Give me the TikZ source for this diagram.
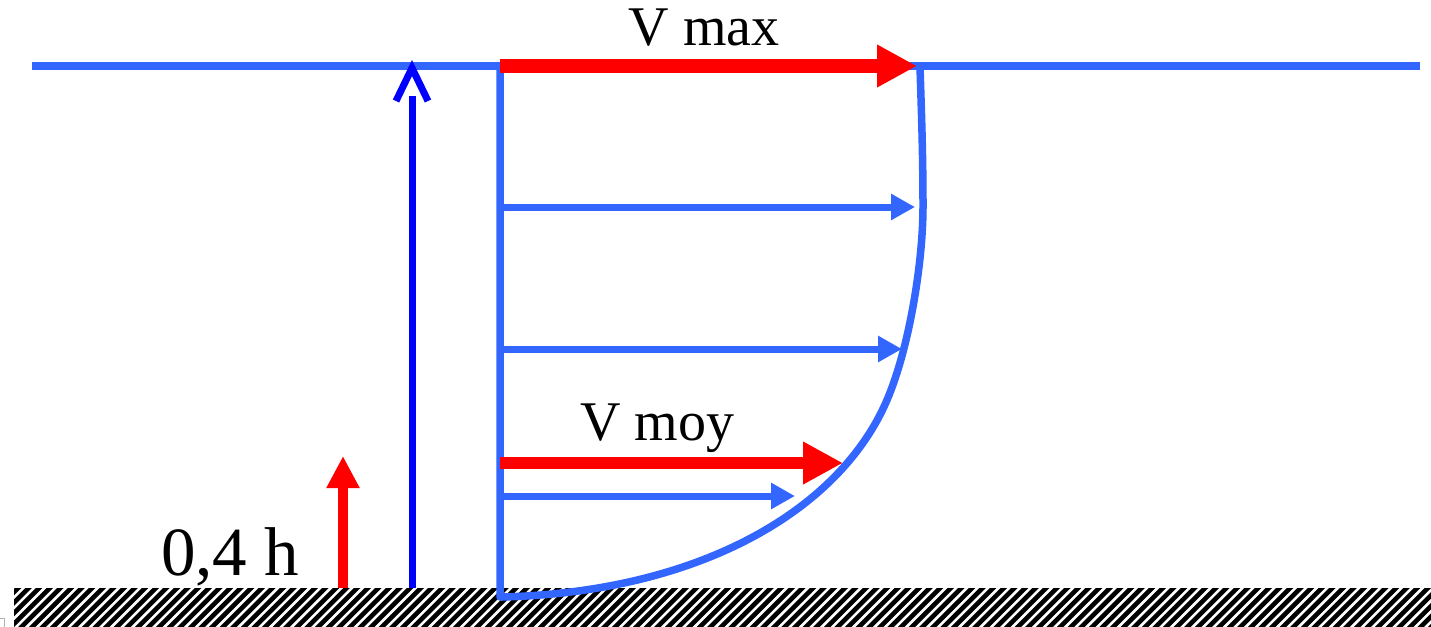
\documentclass[tikz,border=0pt]{standalone}
\usepackage{fontspec}
\setmainfont{Liberation Serif}
\usetikzlibrary{arrows.meta}
\definecolor{profblue}{RGB}{51,102,255}
\definecolor{pureblue}{RGB}{0,0,255}
\definecolor{vred}{RGB}{255,0,0}
\tikzset{
  bluearrow/.style={draw=profblue, line width=7, -{Triangle[length=24,width=25]}},
  redarrow/.style={draw=vred, line width=13, -{Triangle[length=40,width=40]}},
  lbl/.style={anchor=base, inner sep=0pt, font=\fontsize{56}{60}\selectfont},
}
\begin{document}
\begin{tikzpicture}[x=1pt,y=-1pt]
\useasboundingbox (0,0) rectangle (1431,626);
% ground hatch
\begin{scope}
  \clip (14,588) rectangle (1431,626);
  \foreach \i in {0,...,142} \draw[black, line width=4.6] ({\i*10.6-30},636) -- ++(50,-50);
\end{scope}
\draw[gray!60, line width=1] (-5,618) rectangle (4,632);
% coordinates
\coordinate (wl) at (32,66);
\coordinate (wr) at (1420,66);
\coordinate (ptop) at (500,66);
\coordinate (pbot) at (500,597);
\coordinate (vtip) at (920,67);
% water surface
\draw[profblue, line width=7] (wl) -- (wr);
% velocity profile
\draw[profblue, line width=7.5, line join=round]
  (ptop) -- (pbot) -- (502,597)
  .. controls (700,592) and (840,510) .. (887,400)
  .. controls (910,346) and (923,260) .. (923,207)
  .. controls (923,150) and (921,100) .. (vtip);
% blue horizontal arrows
\coordinate (b1s) at (500,207); \coordinate (b1e) at (915,207);
\coordinate (b2s) at (500,349); \coordinate (b2e) at (902,349);
\coordinate (b3s) at (500,496); \coordinate (b3e) at (795,496);
\draw[bluearrow] (b1s) -- (b1e);
\draw[bluearrow] (b2s) -- (b2e);
\draw[bluearrow] (b3s) -- (b3e);
% red arrows
\coordinate (rms) at (500,66); \coordinate (rme) at (917,66);
\coordinate (ros) at (500,463); \coordinate (roe) at (843,463);
\draw[redarrow] (rms) -- (rme);
\draw[redarrow, line width=12] (ros) -- (roe);
\coordinate (hs) at (343,588); \coordinate (he) at (343,456);
\draw[draw=vred, line width=10, -{Triangle[length=32,width=31]}] (hs) -- (he);
% depth arrow (open head)
\coordinate (ds) at (412,588); \coordinate (de) at (412,96);
\coordinate (dt) at (412,68);
\draw[pureblue, line width=7] (ds) -- (de);
\draw[pureblue, line width=7] (396,101) -- (dt) -- (428,101);
% labels
\node[lbl] (vmax) at (704,46) {V max};
\node[lbl] (vmoy) at (657,440) {V moy};
\node[lbl, font=\fontsize{69}{72}\selectfont] (h04) at (230,575) {0,4 h};
\end{tikzpicture}
\end{document}
